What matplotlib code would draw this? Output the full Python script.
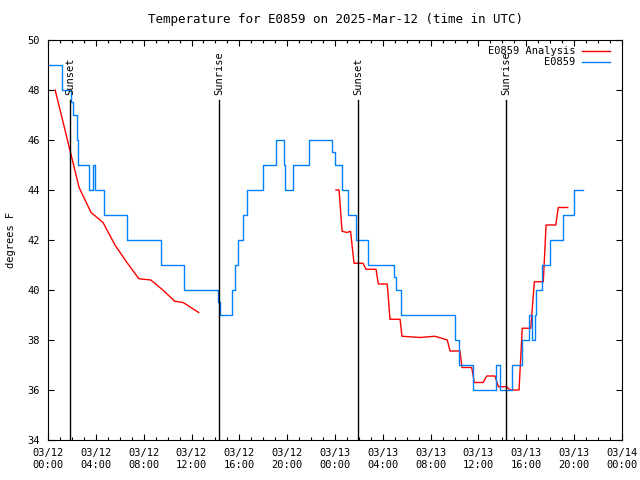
import matplotlib
matplotlib.use("Agg")
import matplotlib.pyplot as plt
import numpy as np

# time in hours since 03/12 00:00 UTC
blue_t = [0.0, 1.15, 1.95, 2.1, 2.4, 2.5, 3.45, 3.8, 3.95, 4.7, 6.6, 9.45, 11.4,
          14.2, 14.35, 15.4, 15.6, 15.85, 16.3, 16.6, 18.0, 19.1, 19.7, 19.8,
          20.5, 21.8, 23.75, 24.0, 24.55, 25.1, 25.75, 26.8, 28.95, 29.1, 29.55,
          34.05, 34.4, 35.55, 37.5, 37.8, 38.8, 39.6, 40.2, 40.5, 40.7, 40.85,
          41.35, 42.0, 43.1, 44.0, 44.7]
blue_v = [49, 48, 47.5, 47, 46, 45, 44, 45, 44, 43, 42, 41, 40,
          39.5, 39, 40, 41, 42, 43, 44, 45, 46, 45, 44,
          45, 46, 45.5, 45, 44, 43, 42, 41, 40.5, 40, 39,
          38, 37, 36, 37, 36, 37, 38, 39, 38, 39, 40,
          41, 42, 43, 44, 44]

red_t = [0.6, 2.6, 3.6, 4.6, 5.6, 6.6, 7.6, 8.6, 9.6, 10.6, 11.3, 12.6, np.nan,
         24.08, 24.34, 24.59, 25.0, 25.3, 25.59, 26.34, 26.59, 27.43, 27.62,
         28.37, 28.6, 29.44, 29.6, 31.1, 32.36, 33.39, 33.62, 34.45, 34.62,
         35.43, 35.65, 36.4, 36.68, 37.38, 37.66, 38.36, 38.63, 39.39, 39.66,
         40.37, 40.67, 41.42, 41.65, 42.46, 42.67, 43.46]
red_v = [48.0, 44.1, 43.1, 42.7, 41.8, 41.1, 40.45, 40.4, 40.0, 39.55, 39.5, 39.1, np.nan,
         44.0, 44.0, 42.35, 42.3, 42.35, 41.07, 41.07, 40.83, 40.83, 40.24,
         40.24, 38.83, 38.83, 38.15, 38.1, 38.15, 38.0, 37.56, 37.56, 36.9,
         36.9, 36.3, 36.3, 36.56, 36.56, 36.13, 36.13, 36.0, 36.0, 38.47,
         38.47, 40.33, 40.33, 42.6, 42.6, 43.3, 43.3]

sun_t = [1.84, 14.3, 25.92, 38.3]
sun_lbl = ["Sunset", "Sunrise", "Sunset", "Sunrise"]

tick_lbls = ["03/12\n00:00", "03/12\n04:00", "03/12\n08:00", "03/12\n12:00",
             "03/12\n16:00", "03/12\n20:00", "03/13\n00:00", "03/13\n04:00",
             "03/13\n08:00", "03/13\n12:00", "03/13\n16:00", "03/13\n20:00",
             "03/14\n00:00"]

plt.rcParams["font.family"] = "DejaVu Sans Mono"
plt.rcParams["font.size"] = 7.5

fig = plt.figure(figsize=(6.4, 4.8), dpi=100)
ax = fig.add_axes([48 / 640, 40 / 480, 574 / 640, 400 / 480])

ax.plot(red_t, red_v, color="#ff0000", lw=1.0, label="E0859 Analysis")
ax.plot(blue_t, blue_v, color="#0080ff", lw=1.0, drawstyle="steps-post", label="E0859")

for t, lbl in zip(sun_t, sun_lbl):
    ax.plot([t, t], [34, 47.6], color="black", lw=1.0)
    ax.text(t, 47.8, lbl, rotation=90, ha="center", va="bottom")

ax.set_xlim(0, 48)
ax.set_ylim(34, 50)
ax.set_xticks(np.arange(0, 49, 4))
ax.set_xticklabels(tick_lbls)
ax.set_xticks(np.arange(0, 49, 1), minor=True)
ax.set_yticks(np.arange(34, 51, 2))
ax.tick_params(which="both", direction="in", top=True, right=True)
ax.tick_params(which="major", length=4, width=0.8, pad=6)
ax.tick_params(which="minor", length=2.5, width=0.8)
for s in ax.spines.values():
    s.set_linewidth(0.8)

ax.set_ylabel("degrees F", labelpad=8)
ax.set_title("Temperature for E0859 on 2025-Mar-12 (time in UTC)", pad=12)

ax.legend(loc="upper right", bbox_to_anchor=(1 - 6 / 574, 1), frameon=False,
          markerfirst=False, handlelength=2.7, borderaxespad=0.2,
          labelspacing=0.1, handletextpad=0.6)

fig.savefig("out.png", dpi=100)
